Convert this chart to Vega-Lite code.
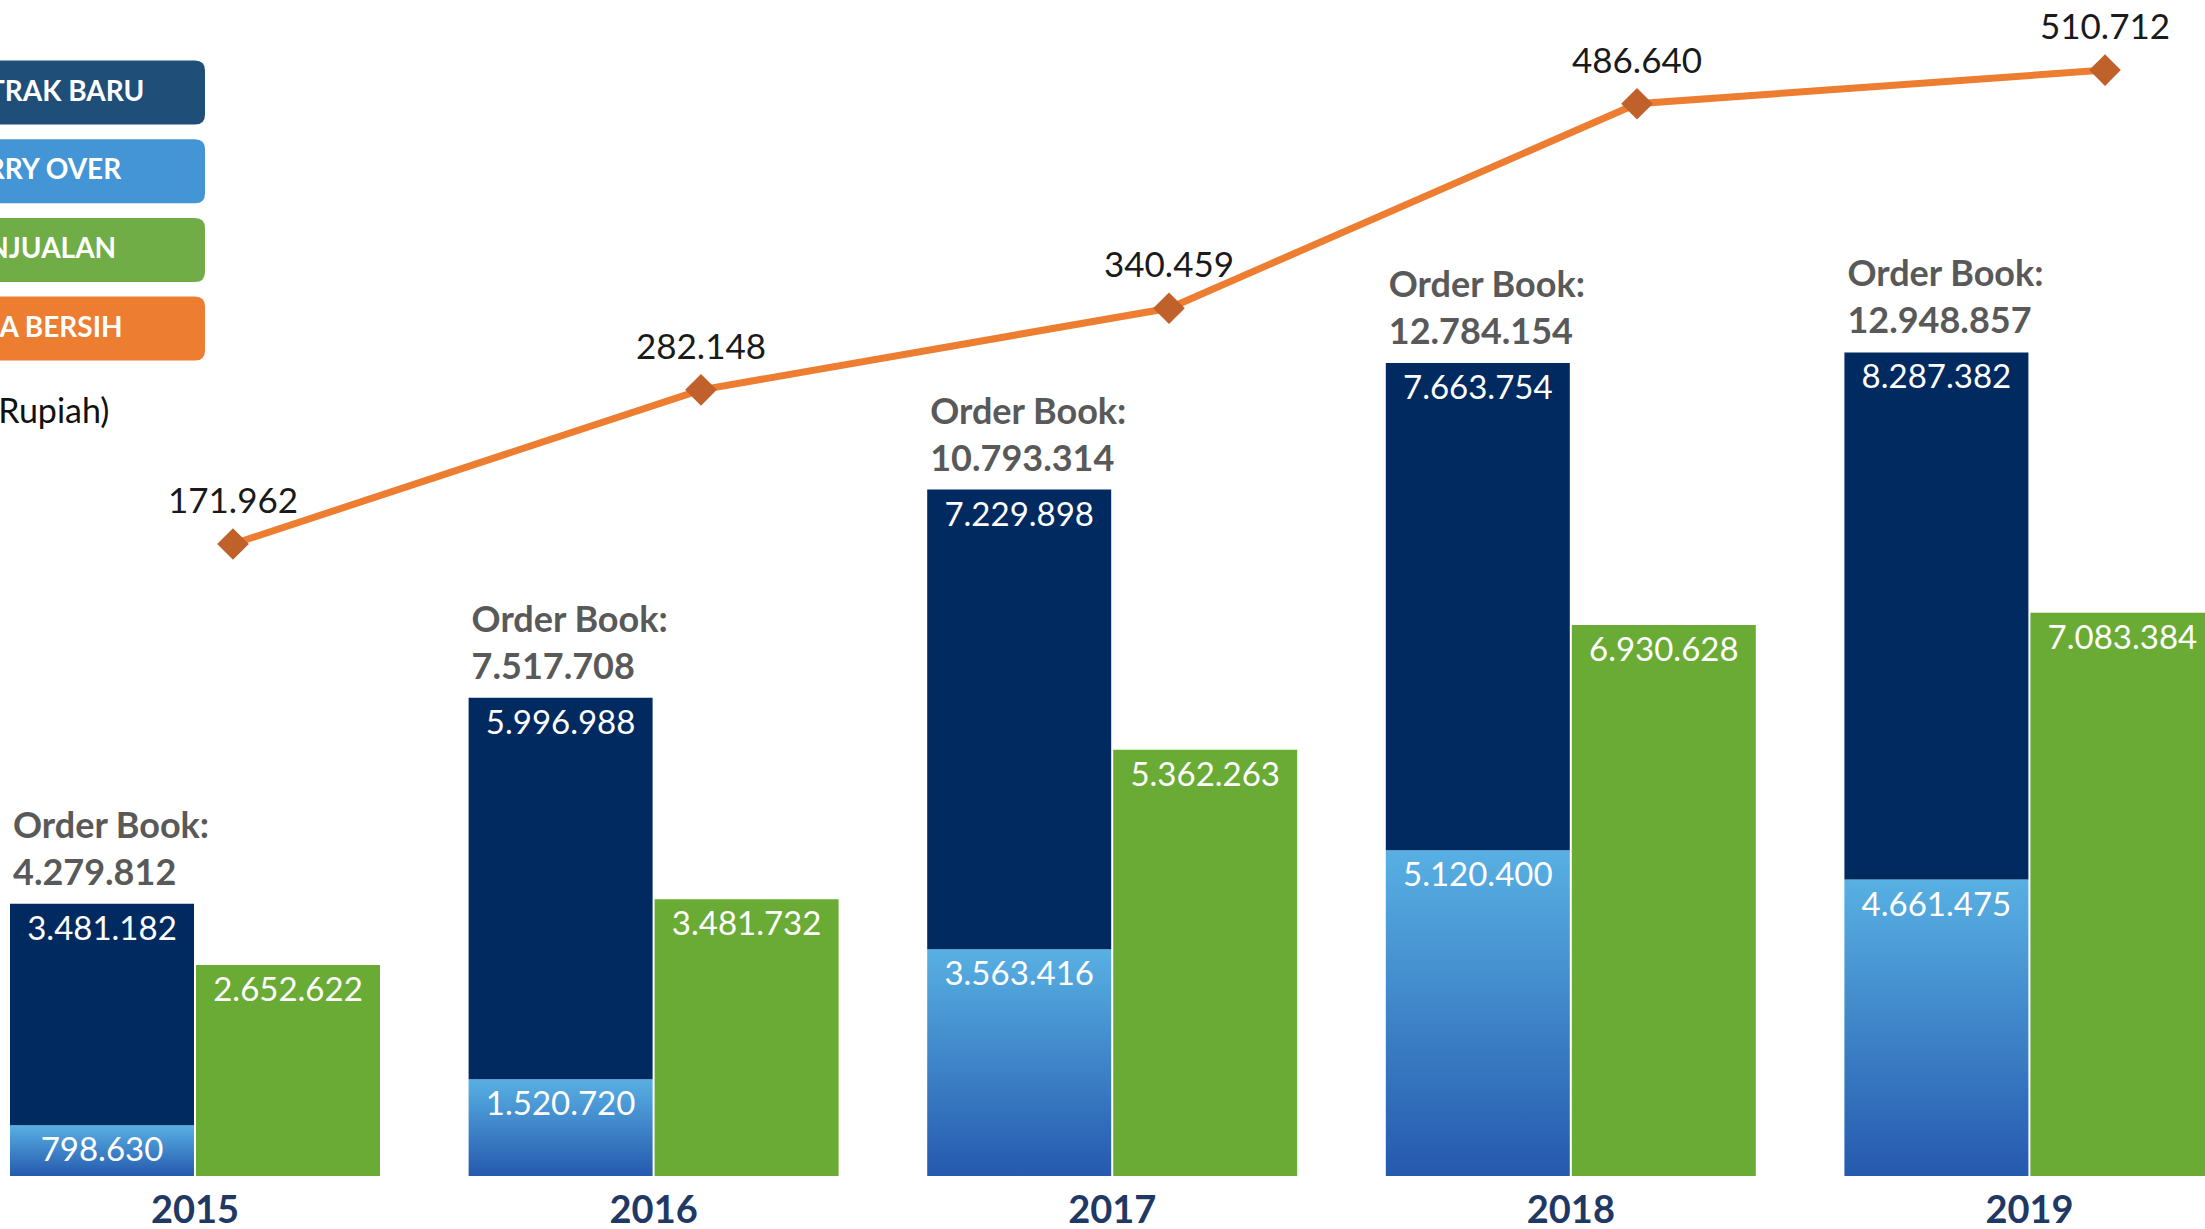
{
  "$schema": "https://vega.github.io/schema/vega-lite/v6.json",
  "width": 2205,
  "height": 1176,
  "autosize": {"type": "none"},
  "padding": {"left": 0, "top": 0, "right": 0, "bottom": 53},
  "background": "white",
  "data": {
    "values": [
      {"year": "2015", "carry": 798630, "kontrak": 3481182, "orderbook": 4279812, "penjualan": 2652622, "laba": 171962},
      {"year": "2016", "carry": 1520720, "kontrak": 5996988, "orderbook": 7517708, "penjualan": 3481732, "laba": 282148},
      {"year": "2017", "carry": 3563416, "kontrak": 7229898, "orderbook": 10793314, "penjualan": 5362263, "laba": 340459},
      {"year": "2018", "carry": 5120400, "kontrak": 7663754, "orderbook": 12784154, "penjualan": 6930628, "laba": 486640},
      {"year": "2019", "carry": 4661475, "kontrak": 8287382, "orderbook": 12948857, "penjualan": 7083384, "laba": 510712}
    ]
  },
  "layer": [
    {
      "mark": {"type": "bar", "color": {"gradient": "linear", "x1": 0, "y1": 0, "x2": 0, "y2": 1, "stops": [{"offset": 0, "color": "#58B0E3"}, {"offset": 1, "color": "#2559AE"}]}},
      "encoding": {
        "x": {"field": "year", "type": "nominal", "scale": {"type": "band", "domain": ["2015", "2016", "2017", "2018", "2019"], "range": [10, 2028.4], "paddingInner": 0.5988, "paddingOuter": 0}, "axis": null},
        "y": {"field": "carry", "type": "quantitative", "scale": {"domain": [0, 18490000], "nice": false, "zero": false}, "axis": null}
      }
    },
    {
      "mark": {"type": "bar", "color": "#012A61"},
      "encoding": {
        "x": {"field": "year", "type": "nominal", "scale": {"type": "band", "domain": ["2015", "2016", "2017", "2018", "2019"], "range": [10, 2028.4], "paddingInner": 0.5988, "paddingOuter": 0}, "axis": null},
        "y": {"field": "orderbook", "type": "quantitative", "scale": {"domain": [0, 18490000], "nice": false, "zero": false}, "axis": null},
        "y2": {"field": "carry"}
      }
    },
    {
      "mark": {"type": "bar", "color": "#6AAB35"},
      "encoding": {
        "x": {"field": "year", "type": "nominal", "scale": {"type": "band", "domain": ["2015", "2016", "2017", "2018", "2019"], "range": [196, 2214.4], "paddingInner": 0.5988, "paddingOuter": 0}, "axis": null},
        "y": {"field": "penjualan", "type": "quantitative", "scale": {"domain": [0, 14790000], "nice": false, "zero": false}, "axis": null}
      }
    },
    {
      "mark": {"type": "line", "color": "#ED7D31", "strokeWidth": 7},
      "encoding": {
        "x": {"field": "year", "type": "nominal", "scale": {"type": "point", "domain": ["2015", "2016", "2017", "2018", "2019"], "range": [233, 2105], "padding": 0}, "axis": null},
        "y": {"field": "laba", "type": "quantitative", "scale": {"domain": [-279800, 560800], "nice": false, "zero": false}, "axis": null}
      }
    },
    {
      "mark": {"type": "point", "shape": "diamond", "filled": true, "color": "#C0612B", "size": 1000, "opacity": 1},
      "encoding": {
        "x": {"field": "year", "type": "nominal", "scale": {"type": "point", "domain": ["2015", "2016", "2017", "2018", "2019"], "range": [233, 2105], "padding": 0}, "axis": null},
        "y": {"field": "laba", "type": "quantitative", "scale": {"domain": [-279800, 560800], "nice": false, "zero": false}, "axis": null}
      }
    },
    {
      "mark": {"type": "text", "font": "Lato", "fontSize": 35, "color": "#1A1A1A", "baseline": "alphabetic", "align": "center", "dy": -31},
      "encoding": {
        "x": {"field": "year", "type": "nominal", "scale": {"type": "point", "domain": ["2015", "2016", "2017", "2018", "2019"], "range": [233, 2105], "padding": 0}, "axis": null},
        "y": {"field": "laba", "type": "quantitative", "scale": {"domain": [-279800, 560800], "nice": false, "zero": false}, "axis": null},
        "text": {"field": "laba", "type": "quantitative", "format": ",d"}
      }
    },
    {
      "mark": {"type": "text", "font": "Lato", "fontSize": 33, "color": "white", "baseline": "top", "align": "center", "dy": 10},
      "encoding": {
        "x": {"field": "year", "type": "nominal", "scale": {"type": "band", "domain": ["2015", "2016", "2017", "2018", "2019"], "range": [10, 2028.4], "paddingInner": 0.5988, "paddingOuter": 0}, "axis": null},
        "y": {"field": "orderbook", "type": "quantitative", "scale": {"domain": [0, 18490000], "nice": false, "zero": false}, "axis": null},
        "text": {"field": "kontrak", "type": "quantitative", "format": ",d"}
      }
    },
    {
      "mark": {"type": "text", "font": "Lato", "fontSize": 33, "color": "white", "baseline": "top", "align": "center", "dy": 10},
      "encoding": {
        "x": {"field": "year", "type": "nominal", "scale": {"type": "band", "domain": ["2015", "2016", "2017", "2018", "2019"], "range": [10, 2028.4], "paddingInner": 0.5988, "paddingOuter": 0}, "axis": null},
        "y": {"field": "carry", "type": "quantitative", "scale": {"domain": [0, 18490000], "nice": false, "zero": false}, "axis": null},
        "text": {"field": "carry", "type": "quantitative", "format": ",d"}
      }
    },
    {
      "mark": {"type": "text", "font": "Lato", "fontSize": 33, "color": "white", "baseline": "top", "align": "center", "dy": 10},
      "encoding": {
        "x": {"field": "year", "type": "nominal", "scale": {"type": "band", "domain": ["2015", "2016", "2017", "2018", "2019"], "range": [196, 2214.4], "paddingInner": 0.5988, "paddingOuter": 0}, "axis": null},
        "y": {"field": "penjualan", "type": "quantitative", "scale": {"domain": [0, 14790000], "nice": false, "zero": false}, "axis": null},
        "text": {"field": "penjualan", "type": "quantitative", "format": ",d"}
      }
    },
    {
      "mark": {"type": "text", "text": "Order Book:", "font": "Lato", "fontSize": 36, "fontWeight": "bold", "color": "#595959", "baseline": "alphabetic", "align": "left", "dx": 3, "dy": -66},
      "encoding": {
        "x": {"field": "year", "type": "nominal", "bandPosition": 0, "scale": {"type": "band", "domain": ["2015", "2016", "2017", "2018", "2019"], "range": [10, 2214.5], "paddingInner": 0.193, "paddingOuter": 0},
          "axis": {"title": null, "orient": "bottom", "domain": false, "ticks": false, "labelAngle": 0, "labelFont": "Lato", "labelFontSize": 38, "labelFontWeight": "bold", "labelColor": "#1F3864", "labelPadding": 16}},
        "y": {"field": "orderbook", "type": "quantitative", "scale": {"domain": [0, 18490000], "nice": false, "zero": false}, "axis": null}
      }
    },
    {
      "mark": {"type": "text", "font": "Lato", "fontSize": 36, "fontWeight": "bold", "color": "#595959", "baseline": "alphabetic", "align": "left", "dx": 3, "dy": -19},
      "encoding": {
        "x": {"field": "year", "type": "nominal", "bandPosition": 0, "scale": {"type": "band", "domain": ["2015", "2016", "2017", "2018", "2019"], "range": [10, 2214.5], "paddingInner": 0.193, "paddingOuter": 0}, "axis": null},
        "y": {"field": "orderbook", "type": "quantitative", "scale": {"domain": [0, 18490000], "nice": false, "zero": false}, "axis": null},
        "text": {"field": "orderbook", "type": "quantitative", "format": ",d"}
      }
    },
    {
      "data": {"values": [{"seri": "KONTRAK BARU"}, {"seri": "CARRY OVER"}, {"seri": "PENJUALAN"}, {"seri": "LABA BERSIH"}]},
      "mark": {"type": "point", "filled": true, "opacity": 0},
      "encoding": {
        "color": {
          "field": "seri", "type": "nominal",
          "scale": {"domain": ["KONTRAK BARU", "CARRY OVER", "PENJUALAN", "LABA BERSIH"], "range": ["#1F4E79", "#4495D5", "#70AD47", "#ED7D31"]},
          "legend": {
            "orient": "none", "legendX": -177, "legendY": 60.5, "padding": 0,
            "symbolType": "M -0.6875 -1 L 10.625 -1 Q 10.9375 -1 10.9375 -0.6875 L 10.9375 0.6875 Q 10.9375 1 10.625 1 L -0.6875 1 Q -1 1 -1 0.6875 L -1 -0.6875 Q -1 -1 -0.6875 -1 Z",
            "symbolSize": 4096, "symbolOpacity": 1, "symbolStrokeWidth": 0,
            "rowPadding": 14.7,
            "labelAlign": "center", "labelOffset": 148, "labelColor": "white", "labelFont": "Lato", "labelFontWeight": "bold", "labelFontSize": 28, "labelLimit": 600,
            "title": "(dalam Juta Rupiah)", "titleOrient": "bottom", "titleAnchor": "start", "titleAlign": "left", "titleFont": "Lato", "titleFontSize": 34, "titleFontWeight": "normal", "titleColor": "#111111", "titlePadding": 35, "titleLimit": 600
          }
        }
      }
    }
  ],
  "resolve": {"scale": {"x": "independent", "y": "independent"}},
  "config": {
    "view": {"stroke": null},
    "locale": {"number": {"decimal": ",", "thousands": ".", "grouping": [3], "currency": ["Rp", ""]}}
  }
}
